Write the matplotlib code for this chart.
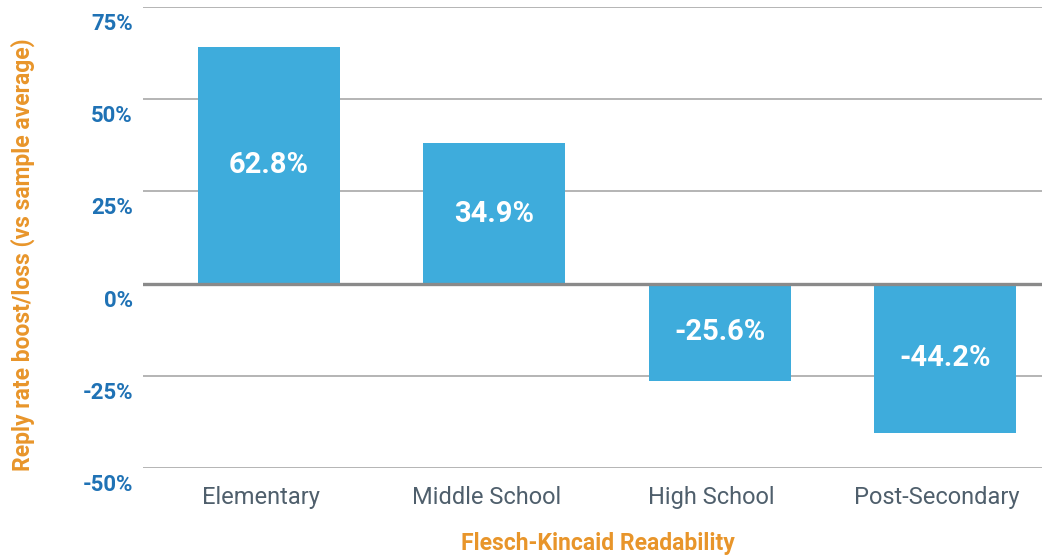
import matplotlib
matplotlib.use("Agg")
import matplotlib.pyplot as plt
import matplotlib.transforms as mtransforms

# values (the printed labels differ slightly from the bar lengths)
categories = ["Elementary", "Middle School", "High School", "Post-Secondary"]
bar_values = [64.1, 38.0, -26.4, -40.5]
bar_labels = ["62.8%", "34.9%", "-25.6%", "-44.2%"]
y_ticks = [-50, -25, 0, 25, 50, 75]
y_tick_labels = ["-50%", "-25%", "0%", "25%", "50%", "75%"]

BAR_COLOR = "#3eacdc"
TICK_BLUE = "#1f72b5"
ORANGE = "#e8952a"
GREY_TEXT = "#4f5f6c"

plt.rcParams["font.family"] = ["Roboto", "DejaVu Sans"]


def main():
    fig = plt.figure(figsize=(10.42, 5.58), dpi=100)
    ax = fig.add_axes([0.137, 0.161, 0.863, 0.8265])

    x = list(range(len(categories)))
    ax.set_axisbelow(True)
    ax.yaxis.grid(True, color="#b4b4b4", linewidth=1.4)
    ax.bar(x, bar_values, width=0.63, color=BAR_COLOR, zorder=2)
    ax.axhline(0, color="#8a8a8a", linewidth=2.4, zorder=3)

    for xi, v, lab in zip(x, bar_values, bar_labels):
        ax.text(xi, v / 2, lab, ha="center", va="center", color="white",
                fontsize=21, fontweight="bold", zorder=4)

    ax.set_xlim(-0.56, 3.43)
    ax.set_ylim(-50, 75)
    ax.set_yticks(y_ticks)
    ax.set_yticklabels(y_tick_labels)
    ax.set_xticks(x)
    ax.set_xticklabels(categories)

    for s in ax.spines.values():
        s.set_visible(False)

    ax.tick_params(axis="y", length=0, pad=7, labelsize=16, labelcolor=TICK_BLUE)
    ax.tick_params(axis="x", length=0, pad=13, labelsize=17, labelcolor=GREY_TEXT)
    # y labels sit just under their gridline, x labels a bit left of the bar centre
    for t in ax.get_yticklabels():
        t.set_fontweight("bold")
        t.set_transform(t.get_transform() + mtransforms.ScaledTranslation(0, -0.145, fig.dpi_scale_trans))
    for t in ax.get_xticklabels():
        t.set_transform(t.get_transform() + mtransforms.ScaledTranslation(-0.08, 0, fig.dpi_scale_trans))

    ax.set_xlabel("Flesch-Kincaid Readability", color=ORANGE, fontsize=16.5, fontweight="bold")
    ax.xaxis.set_label_coords(0.506, -0.163)
    ax.set_ylabel("Reply rate boost/loss (vs sample average)", color=ORANGE,
                  fontsize=16.5, fontweight="bold")
    ax.yaxis.set_label_coords(-0.133, 0.462)
    ax.xaxis.label.set_va("center")
    ax.yaxis.label.set_va("center")

    fig.savefig("out.png", dpi=100)


if __name__ == "__main__":
    main()
